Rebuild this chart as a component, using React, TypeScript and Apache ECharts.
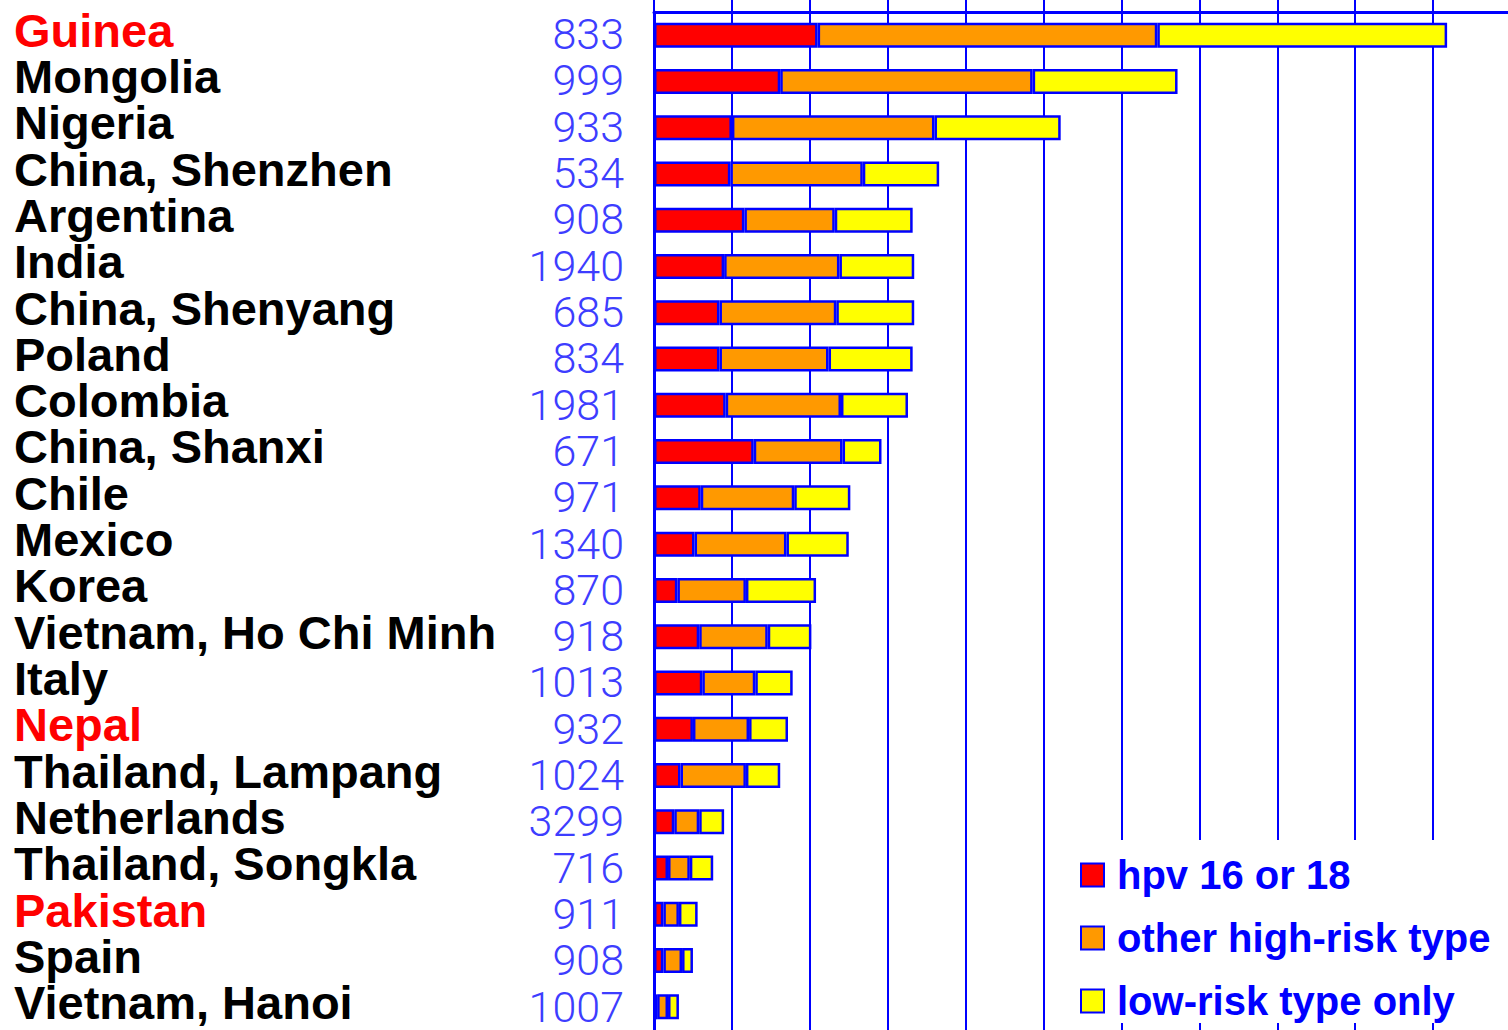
import React, { useEffect, useRef } from "react";
import * as echarts from "echarts";

const countries = [
  "Guinea", "Mongolia", "Nigeria", "China, Shenzhen", "Argentina", "India",
  "China, Shenyang", "Poland", "Colombia", "China, Shanxi", "Chile", "Mexico",
  "Korea", "Vietnam, Ho Chi Minh", "Italy", "Nepal", "Thailand, Lampang",
  "Netherlands", "Thailand, Songkla", "Pakistan", "Spain", "Vietnam, Hanoi",
];
const highlighted = ["Guinea", "Nepal", "Pakistan"];
const sampleSizes = [
  "833", "999", "933", "534", "908", "1940", "685", "834", "1981", "671", "971",
  "1340", "870", "918", "1013", "932", "1024", "3299", "716", "911", "908", "1007",
];
const hpv1618 = [10.5, 8.1, 5.0, 4.9, 5.8, 4.5, 4.2, 4.2, 4.6, 6.4, 3.0, 2.6, 1.5, 2.9, 3.1, 2.5, 1.7, 1.3, 0.9, 0.6, 0.6, 0.2];
const otherHighRisk = [21.8, 16.2, 13.0, 8.5, 5.8, 7.4, 7.5, 7.0, 7.4, 5.7, 6.0, 5.9, 4.4, 4.4, 3.4, 3.6, 4.2, 1.6, 1.4, 1.0, 1.2, 0.7];
const lowRiskOnly = [18.6, 9.3, 8.1, 4.9, 5.0, 4.8, 5.0, 5.4, 4.3, 2.5, 3.6, 4.0, 4.5, 2.8, 2.4, 2.5, 2.2, 1.6, 1.5, 1.2, 0.7, 0.7];
const seriesNames = ["hpv 16 or 18", "other high-risk type", "low-risk type only"];
const seriesColors = ["#ff0000", "#ff9900", "#ffff00"];

const BLUE = "#0000ff";
const LABEL_FONT = '"Liberation Sans", Arial, sans-serif';

export default function App() {
  const ref = useRef<HTMLDivElement>(null);
  useEffect(() => {
    document.body.style.margin = "0";
    document.body.style.overflow = "hidden";
    document.documentElement.style.overflow = "hidden";
    const chart = echarts.init(ref.current!, null, { renderer: "svg" });
    const values = [hpv1618, otherHighRisk, lowRiskOnly];
    chart.setOption({
      animation: false,
      backgroundColor: "#ffffff",
      grid: [
        { left: 654, right: 9, top: 12, height: 1020, containLabel: false },
        { left: 654, right: 9, top: 11, height: 1025, containLabel: false },
      ],
      xAxis: [
        {
          type: "value",
          gridIndex: 0,
          position: "top",
          min: 0,
          max: 55,
          interval: 5,
          axisLine: { show: true, lineStyle: { color: BLUE, width: 3 } },
          axisTick: { show: true, length: 12, lineStyle: { color: BLUE, width: 2 } },
          axisLabel: { show: false },
          splitLine: { show: true, lineStyle: { color: BLUE, width: 2 } },
        },
        {
          type: "value",
          gridIndex: 1,
          show: false,
          min: 0,
          max: 55,
        },
      ],
      yAxis: [
        {
          type: "category",
          gridIndex: 0,
          data: countries,
          inverse: true,
          position: "left",
          axisLine: { show: true, onZero: false, lineStyle: { color: BLUE, width: 3 } },
          axisTick: { show: false },
          splitLine: { show: false },
          axisLabel: { show: false },
        },
        {
          type: "category",
          gridIndex: 1,
          data: countries,
          inverse: true,
          position: "left",
          axisLine: { show: false },
          axisTick: { show: false },
          splitLine: { show: false },
          axisLabel: {
            interval: 0,
            margin: 640,
            align: "left",
            verticalAlign: "middle",
            padding: [0, 0, 8, 0],
            formatter: (v: string) => (highlighted.includes(v) ? `{r|${v}}` : `{b|${v}}`),
            rich: {
              r: { color: "#ff0000", fontSize: 47, lineHeight: 40, fontWeight: "bold", fontFamily: LABEL_FONT },
              b: { color: "#000000", fontSize: 47, lineHeight: 40, fontWeight: "bold", fontFamily: LABEL_FONT },
            },
          },
        },
        {
          type: "category",
          gridIndex: 1,
          data: sampleSizes,
          inverse: true,
          position: "left",
          offset: 0,
          axisLine: { show: false },
          axisTick: { show: false },
          splitLine: { show: false },
          axisLabel: {
            interval: 0,
            margin: 30,
            align: "right",
            verticalAlign: "middle",
            padding: [7, 0, 0, 0],
            color: "#3d3dff",
            fontSize: 43,
            lineHeight: 40,
            fontWeight: 300,
            fontFamily: "Roboto, sans-serif",
          },
        },
      ],
      legend: {
        orient: "vertical",
        left: 1060,
        top: 840,
        padding: [15, 20, 2, 20],
        backgroundColor: "#ffffff",
        itemWidth: 23,
        itemHeight: 23,
        itemGap: 23,
        icon: "rect",
        itemStyle: { borderColor: BLUE, borderWidth: 2 },
        textStyle: {
          color: BLUE,
          fontSize: 40,
          fontWeight: "bold",
          fontFamily: LABEL_FONT,
          lineHeight: 40,
          padding: [0, 0, 0, 8],
        },
        data: seriesNames,
      },
      series: seriesNames.map((name, i) => ({
        name,
        type: "bar",
        stack: "total",
        xAxisIndex: 0,
        yAxisIndex: 0,
        barWidth: 25,
        data: values[i],
        itemStyle: { color: seriesColors[i], borderColor: BLUE, borderWidth: 2.5 },
        emphasis: { disabled: true },
      })),
    });
    return () => chart.dispose();
  }, []);
  return (
    <div
      ref={ref}
      style={{ position: "absolute", left: 0, top: 0, width: 1520, height: 1030 }}
    />
  );
}
